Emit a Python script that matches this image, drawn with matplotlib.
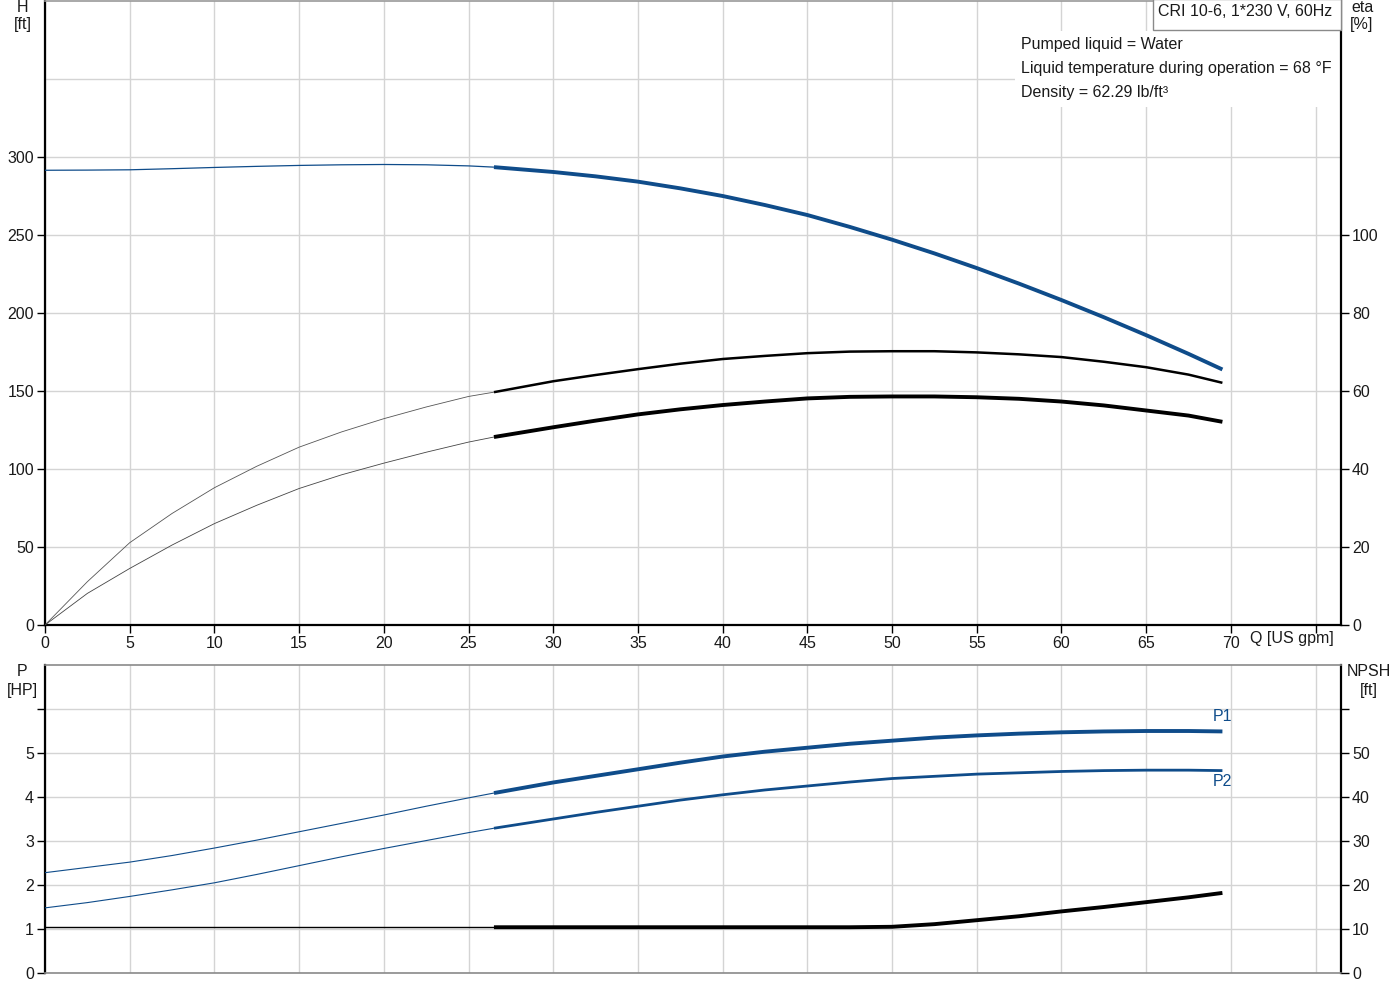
import matplotlib
matplotlib.use('Agg')
import matplotlib.pyplot as plt
from matplotlib.patches import Rectangle

plt.rcParams['font.family'] = ['Liberation Sans', 'DejaVu Sans']

# ---------------- data ----------------
q = [0, 2.5, 5, 7.5, 10, 12.5, 15, 17.5, 20, 22.5, 25, 26.5,
     30, 32.5, 35, 37.5, 40, 42.5, 45, 47.5, 50, 52.5, 55, 57.5,
     60, 62.5, 65, 67.5, 69.5]
q_split = 26.5   # start of the duty range (thick lines)

head_ft = [291.5, 291.6, 291.8, 292.5, 293.3, 294.0, 294.6, 295.0, 295.2, 295.0, 294.3, 293.5,
           290.4, 287.6, 284.2, 279.9, 275.0, 269.2, 262.8, 255.2, 247.0, 238.2, 228.8, 218.8,
           208.3, 197.3, 185.8, 173.8, 163.8]
eta_pump = [0.0, 11.1, 21.1, 28.6, 35.2, 40.7, 45.6, 49.5, 52.9, 55.9, 58.6, 59.7,
            62.5, 64.1, 65.6, 67.0, 68.2, 69.0, 69.7, 70.1, 70.2, 70.2, 69.9, 69.4,
            68.7, 67.5, 66.1, 64.2, 62.1]
eta_total = [0.0, 8.1, 14.5, 20.5, 26.0, 30.7, 35.0, 38.5, 41.5, 44.3, 46.9, 48.2,
             50.7, 52.4, 54.0, 55.3, 56.4, 57.3, 58.1, 58.5, 58.6, 58.6, 58.4, 58.0,
             57.3, 56.3, 55.0, 53.7, 52.1]
p1_hp = [2.28, 2.40, 2.52, 2.67, 2.84, 3.02, 3.21, 3.40, 3.59, 3.79, 3.98, 4.09,
         4.33, 4.48, 4.63, 4.78, 4.92, 5.03, 5.12, 5.21, 5.28, 5.35, 5.40, 5.44,
         5.47, 5.49, 5.50, 5.50, 5.49]
p2_hp = [1.48, 1.60, 1.74, 1.89, 2.05, 2.24, 2.44, 2.64, 2.83, 3.01, 3.19, 3.29,
         3.50, 3.65, 3.79, 3.93, 4.05, 4.16, 4.25, 4.34, 4.42, 4.47, 4.52, 4.55,
         4.58, 4.60, 4.61, 4.61, 4.60]
npsh_ft = [10.4, 10.4, 10.4, 10.4, 10.4, 10.4, 10.4, 10.4, 10.4, 10.4, 10.4, 10.4,
           10.4, 10.4, 10.4, 10.4, 10.4, 10.4, 10.4, 10.4, 10.5, 11.1, 12.0, 12.9,
           14.0, 15.0, 16.1, 17.2, 18.2]

x_ticks = [0, 5, 10, 15, 20, 25, 30, 35, 40, 45, 50, 55, 60, 65, 70, 75]
x_labels = ['0', '5', '10', '15', '20', '25', '30', '35', '40', '45', '50', '55', '60', '65', '70', '']
h_ticks = [0, 50, 100, 150, 200, 250, 300]
h_extra_grid = [350]
eta_ticks = [0, 20, 40, 60, 80, 100]
p_ticks = [0, 1, 2, 3, 4, 5, 6]
p_labels = ['0', '1', '2', '3', '4', '5', '']
npsh_ticks = [0, 10, 20, 30, 40, 50, 60]
npsh_labels = ['0', '10', '20', '30', '40', '50', '']

title_txt = 'CRI 10-6, 1*230 V, 60Hz'
info_lines = ['Pumped liquid = Water',
              'Liquid temperature during operation = 68 \u00b0F',
              'Density = 62.29 lb/ft\u00b3']

# ---------------- style ----------------
BLUE = '#0f4c8a'
GRID = '#d4d4d4'
TXT = '#1a1a1a'
FS = 11.5
W, H = 1400, 1000


def split(xs, ys):
    a = [(x, y) for x, y in zip(xs, ys) if x <= q_split]
    b = [(x, y) for x, y in zip(xs, ys) if x >= q_split]
    return list(zip(*a)), list(zip(*b))


def curve(axis, ys, color, lw_thin, lw_thick, thin_color=None):
    (xa, ya), (xb, yb) = split(q, ys)
    axis.plot(xa, ya, color=thin_color or color, lw=lw_thin, solid_capstyle='butt',
              solid_joinstyle='round', zorder=3)
    axis.plot(xb, yb, color=color, lw=lw_thick, solid_capstyle='butt',
              solid_joinstyle='round', zorder=4)


def style_spines(axis, top_col, bottom_col):
    axis.spines['left'].set_color('black')
    axis.spines['left'].set_linewidth(1.6)
    axis.spines['right'].set_color('black')
    axis.spines['right'].set_linewidth(1.6)
    axis.spines['top'].set_color(top_col)
    axis.spines['top'].set_linewidth(1.2)
    axis.spines['bottom'].set_color(bottom_col)
    axis.spines['bottom'].set_linewidth(1.6 if bottom_col == 'black' else 1.2)


fig = plt.figure(figsize=(14, 10), dpi=100)

# ---------------- top (H / eta) ----------------
L = 45 / W
Wd = (1341 - 45) / W
ax = fig.add_axes([L, 1 - 625 / H, Wd, 624 / H])
ax.set_xlim(0, 76.5)
ax.set_ylim(0, 400)
ax.set_axisbelow(True)
ax.set_xticks(x_ticks)
ax.set_xticklabels(x_labels)
ax.set_yticks(h_ticks)
ax.grid(True, color=GRID, lw=1)
for yv in h_extra_grid:
    ax.axhline(yv, color=GRID, lw=1, zorder=0.5)
ax.tick_params(direction='out', length=6, width=1, labelsize=FS, colors='black',
               labelcolor=TXT, pad=2)
style_spines(ax, '#9a9a9a', 'black')

# white box behind the info text
ax.add_patch(Rectangle(((1015 - 45) / 1296, 1 - 106 / 625), (1341 - 1015) / 1296, 76 / 625,
                       transform=ax.transAxes, facecolor='white', edgecolor='none', zorder=1))

curve(ax, head_ft, BLUE, 0.9, 2.8)

ax2 = ax.twinx()
ax2.set_ylim(0, 160)
ax2.set_yticks(eta_ticks)
ax2.tick_params(direction='out', length=6, width=1, labelsize=FS, labelcolor=TXT, pad=2)
for s in ax2.spines.values():
    s.set_visible(False)
curve(ax2, eta_pump, 'black', 0.6, 1.8, thin_color='#555555')
curve(ax2, eta_total, 'black', 0.6, 2.8, thin_color='#444444')

# title box
fig.patches.append(Rectangle((1153 / W, 1 - 30 / H), (1341 - 1153) / W, 31 / H,
                             transform=fig.transFigure, facecolor='white',
                             edgecolor='#8a8a8a', lw=1, zorder=5))
fig.text(1158 / W, 1 - 12 / H, title_txt, fontsize=11.5, color=TXT, va='center', ha='left', zorder=6)
for i, line in enumerate(info_lines):
    fig.text(1021 / W, 1 - (44 + 24 * i) / H, line, fontsize=11.5, color=TXT,
             va='center', ha='left')

fig.text(23 / W, 1 - 8 / H, 'H', fontsize=FS, color=TXT, ha='center', va='center')
fig.text(23 / W, 1 - 25 / H, '[ft]', fontsize=FS, color=TXT, ha='center', va='center')
fig.text(1362 / W, 1 - 8 / H, 'eta', fontsize=FS, color=TXT, ha='center', va='center')
fig.text(1362 / W, 1 - 25 / H, '[%]', fontsize=FS, color=TXT, ha='center', va='center')
fig.text(1292 / W, 1 - 639 / H, 'Q [US gpm]', fontsize=FS, color=TXT, ha='center', va='center')

# ---------------- bottom (P / NPSH) ----------------
bx = fig.add_axes([L, 1 - 973 / H, Wd, (973 - 665) / H])
bx.set_xlim(0, 76.5)
bx.set_ylim(0, 7)
bx.set_axisbelow(True)
bx.set_xticks(x_ticks)
bx.set_xticklabels([])
bx.tick_params(axis='x', length=0)
bx.set_yticks(p_ticks)
bx.set_yticklabels(p_labels)
bx.grid(True, color=GRID, lw=1)
bx.tick_params(axis='y', direction='out', length=6, width=1, labelsize=FS, labelcolor=TXT, pad=2)
style_spines(bx, '#8a8a8a', '#8a8a8a')

curve(bx, p1_hp, BLUE, 0.8, 2.8)
curve(bx, p2_hp, BLUE, 0.8, 2.0)
bx.text(q[-1], p1_hp[-1] + 0.18, 'P1', color=BLUE, fontsize=FS, ha='center', va='bottom')
bx.text(q[-1], p2_hp[-1] - 0.08, 'P2', color=BLUE, fontsize=FS, ha='center', va='top')

bx2 = bx.twinx()
bx2.set_ylim(0, 70)
bx2.set_yticks(npsh_ticks)
bx2.set_yticklabels(npsh_labels)
bx2.tick_params(direction='out', length=6, width=1, labelsize=FS, labelcolor=TXT, pad=2)
for s in bx2.spines.values():
    s.set_visible(False)
curve(bx2, npsh_ft, 'black', 1.0, 2.8)

fig.text(22 / W, 1 - 672 / H, 'P', fontsize=FS, color=TXT, ha='center', va='center')
fig.text(22 / W, 1 - 690 / H, '[HP]', fontsize=FS, color=TXT, ha='center', va='center')
fig.text(1369 / W, 1 - 672 / H, 'NPSH', fontsize=FS, color=TXT, ha='center', va='center')
fig.text(1369 / W, 1 - 690 / H, '[ft]', fontsize=FS, color=TXT, ha='center', va='center')

fig.savefig('out.png', dpi=100, facecolor='white')
